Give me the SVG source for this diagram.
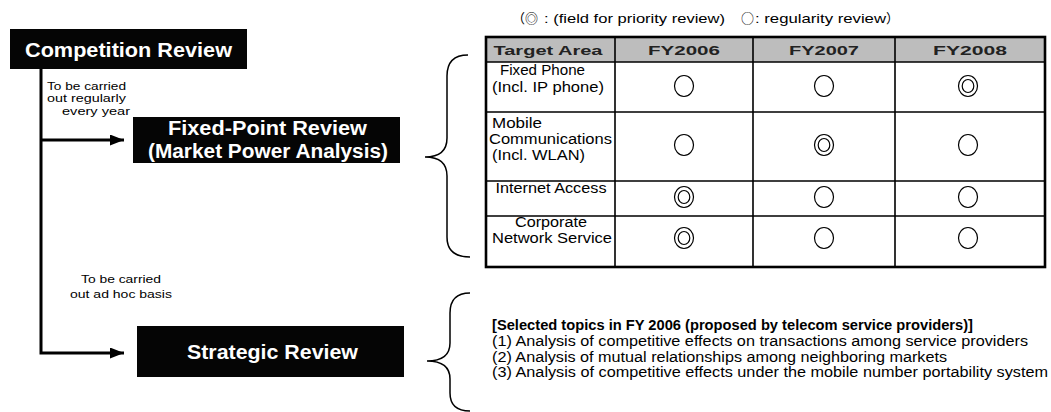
<svg xmlns="http://www.w3.org/2000/svg" width="1051" height="412" viewBox="0 0 1051 412">
<style>
.box{fill:#050505}
.bt{font-family:"Liberation Sans",Arial,sans-serif;font-weight:bold;font-size:20px;fill:#fff;text-anchor:middle}
.lbl{font-family:"Liberation Sans",Arial,sans-serif;font-size:11.5px;fill:#000}
.conn{stroke:#000;stroke-width:3;fill:none}
.brace{stroke:#000;stroke-width:1.5;fill:none}
.grid{stroke:#000;stroke-width:1.6;fill:none}
.outer{stroke:#000;stroke-width:2.6;fill:none}
.circ{fill:none;stroke:#000;stroke-width:1.2}
.th{font-family:"Liberation Sans",Arial,sans-serif;font-weight:bold;font-size:13px;fill:#222;text-anchor:middle}
.td{font-family:"Liberation Sans",Arial,sans-serif;font-size:14px;fill:#000}
.mid{text-anchor:middle}
.topic{font-family:"Liberation Sans",Arial,sans-serif;font-size:15.5px;fill:#000}
.legend{font-family:"Liberation Sans",Arial,"Noto Sans CJK JP",sans-serif;font-size:13px;fill:#000}
.sym{font-family:"Noto Sans CJK JP","Liberation Sans",sans-serif}
</style>
<defs>
<marker id="ah" markerUnits="userSpaceOnUse" markerWidth="14" markerHeight="11" refX="14" refY="5.5" orient="auto" viewBox="0 0 14 11"><path d="M0,0 L14,5.5 L0,11 z" fill="#000"/></marker>
<ellipse id="o" cx="0" cy="0" rx="9.5" ry="10.5" class="circ"/>
<g id="oo"><ellipse cx="0" cy="0" rx="9.5" ry="10.5" class="circ"/><ellipse cx="0" cy="0" rx="5.8" ry="6.5" class="circ"/></g>
</defs>
<rect width="1051" height="412" fill="#fff"/>

<g id="connectors">
<path class="conn" d="M41,69 V353 H124" marker-end="url(#ah)"/>
<path class="conn" d="M41,140 H124" marker-end="url(#ah)"/>
<text class="lbl" x="47" y="90" textLength="79" lengthAdjust="spacingAndGlyphs">To be carried</text>
<text class="lbl" x="47" y="102" textLength="79" lengthAdjust="spacingAndGlyphs">out regularly</text>
<text class="lbl" x="62" y="115" textLength="68" lengthAdjust="spacingAndGlyphs">every year</text>
<text class="lbl" x="81" y="283" textLength="80" lengthAdjust="spacingAndGlyphs">To be carried</text>
<text class="lbl" x="70" y="298" textLength="102" lengthAdjust="spacingAndGlyphs">out  ad hoc basis</text>
</g>

<g id="competition-review">
<rect class="box" x="10" y="29" width="237" height="40"/>
<text class="bt" x="128.5" y="57" textLength="207" lengthAdjust="spacingAndGlyphs">Competition Review</text>
</g>

<g id="fixed-point-review">
<rect class="box" x="133" y="117" width="267" height="46"/>
<text class="bt" x="267.5" y="135" textLength="199" lengthAdjust="spacingAndGlyphs">Fixed-Point Review</text>
<text class="bt" x="268" y="158" textLength="240" lengthAdjust="spacingAndGlyphs">(Market Power Analysis)</text>
</g>

<g id="strategic-review">
<rect class="box" x="137" y="326" width="267" height="51"/>
<text class="bt" x="272.5" y="359" textLength="171" lengthAdjust="spacingAndGlyphs">Strategic Review</text>
</g>

<g id="legend">
<text class="legend" y="23"><tspan class="sym" x="512">（◎</tspan><tspan x="544" textLength="181" lengthAdjust="spacingAndGlyphs">: (field for priority review)</tspan><tspan class="sym" x="741">○</tspan><tspan x="755" textLength="131" lengthAdjust="spacingAndGlyphs">: regularity review</tspan><tspan class="sym" x="886">）</tspan></text>
</g>

<g id="brace-fixed">
<path class="brace" d="M468,55 Q447,55 447,76 V138 Q447,157 425,157 Q447,157 447,176 V237 Q447,257 470,257"/>
</g>

<g id="target-table">
<rect x="486" y="37" width="559" height="25" fill="#bdbdbd"/>
<path class="grid" d="M486,62 H1045 M486,112 H1045 M486,181 H1045 M486,216 H1045 M615,37 V267 M753,37 V267 M895,37 V267"/>
<rect class="outer" x="486" y="37" width="559" height="230"/>
<text class="th" x="548" y="55" textLength="109" lengthAdjust="spacingAndGlyphs">Target  Area</text>
<text class="th" x="684" y="55" textLength="72" lengthAdjust="spacingAndGlyphs">FY2006</text>
<text class="th" x="824" y="55" textLength="70" lengthAdjust="spacingAndGlyphs">FY2007</text>
<text class="th" x="970" y="55" textLength="74" lengthAdjust="spacingAndGlyphs">FY2008</text>

<text class="td" x="500" y="75" textLength="85" lengthAdjust="spacingAndGlyphs">Fixed Phone</text>
<text class="td" x="492" y="92" textLength="112" lengthAdjust="spacingAndGlyphs">(Incl. IP phone)</text>
<text class="td" x="492" y="128" textLength="50" lengthAdjust="spacingAndGlyphs">Mobile</text>
<text class="td" x="489" y="143.5" textLength="123" lengthAdjust="spacingAndGlyphs">Communications</text>
<text class="td" x="492" y="159.5" textLength="93" lengthAdjust="spacingAndGlyphs">(Incl. WLAN)</text>
<text class="td mid" x="551" y="193" textLength="111" lengthAdjust="spacingAndGlyphs">Internet Access</text>
<text class="td mid" x="551" y="227" textLength="72" lengthAdjust="spacingAndGlyphs">Corporate</text>
<text class="td mid" x="552" y="243" textLength="120" lengthAdjust="spacingAndGlyphs">Network Service</text>

<use href="#o" x="684" y="86"/>
<use href="#o" x="824" y="86"/>
<use href="#oo" x="968" y="86"/>
<use href="#o" x="684" y="145"/>
<use href="#oo" x="824" y="145"/>
<use href="#o" x="968" y="145"/>
<use href="#oo" x="684" y="197"/>
<use href="#o" x="824" y="197"/>
<use href="#o" x="968" y="197"/>
<use href="#oo" x="684" y="238"/>
<use href="#o" x="824" y="238"/>
<use href="#o" x="968" y="238"/>
</g>

<g id="brace-strategic">
<path class="brace" d="M470,293 Q450,293 450,313 V343 Q450,361 427,361 Q450,361 450,379 V393 Q450,411 470,411"/>
</g>

<g id="selected-topics">
<text class="topic" x="492" y="330" font-weight="bold" textLength="481" lengthAdjust="spacingAndGlyphs">[Selected topics in FY 2006 (proposed by telecom service providers)]</text>
<text class="topic" x="492" y="346" textLength="536" lengthAdjust="spacingAndGlyphs">(1) Analysis of competitive effects on transactions among service providers</text>
<text class="topic" x="492" y="361.5" textLength="455" lengthAdjust="spacingAndGlyphs">(2) Analysis of mutual relationships among neighboring markets</text>
<text class="topic" x="492" y="377" textLength="556" lengthAdjust="spacingAndGlyphs">(3) Analysis of competitive effects under the mobile number portability system</text>
</g>
</svg>
